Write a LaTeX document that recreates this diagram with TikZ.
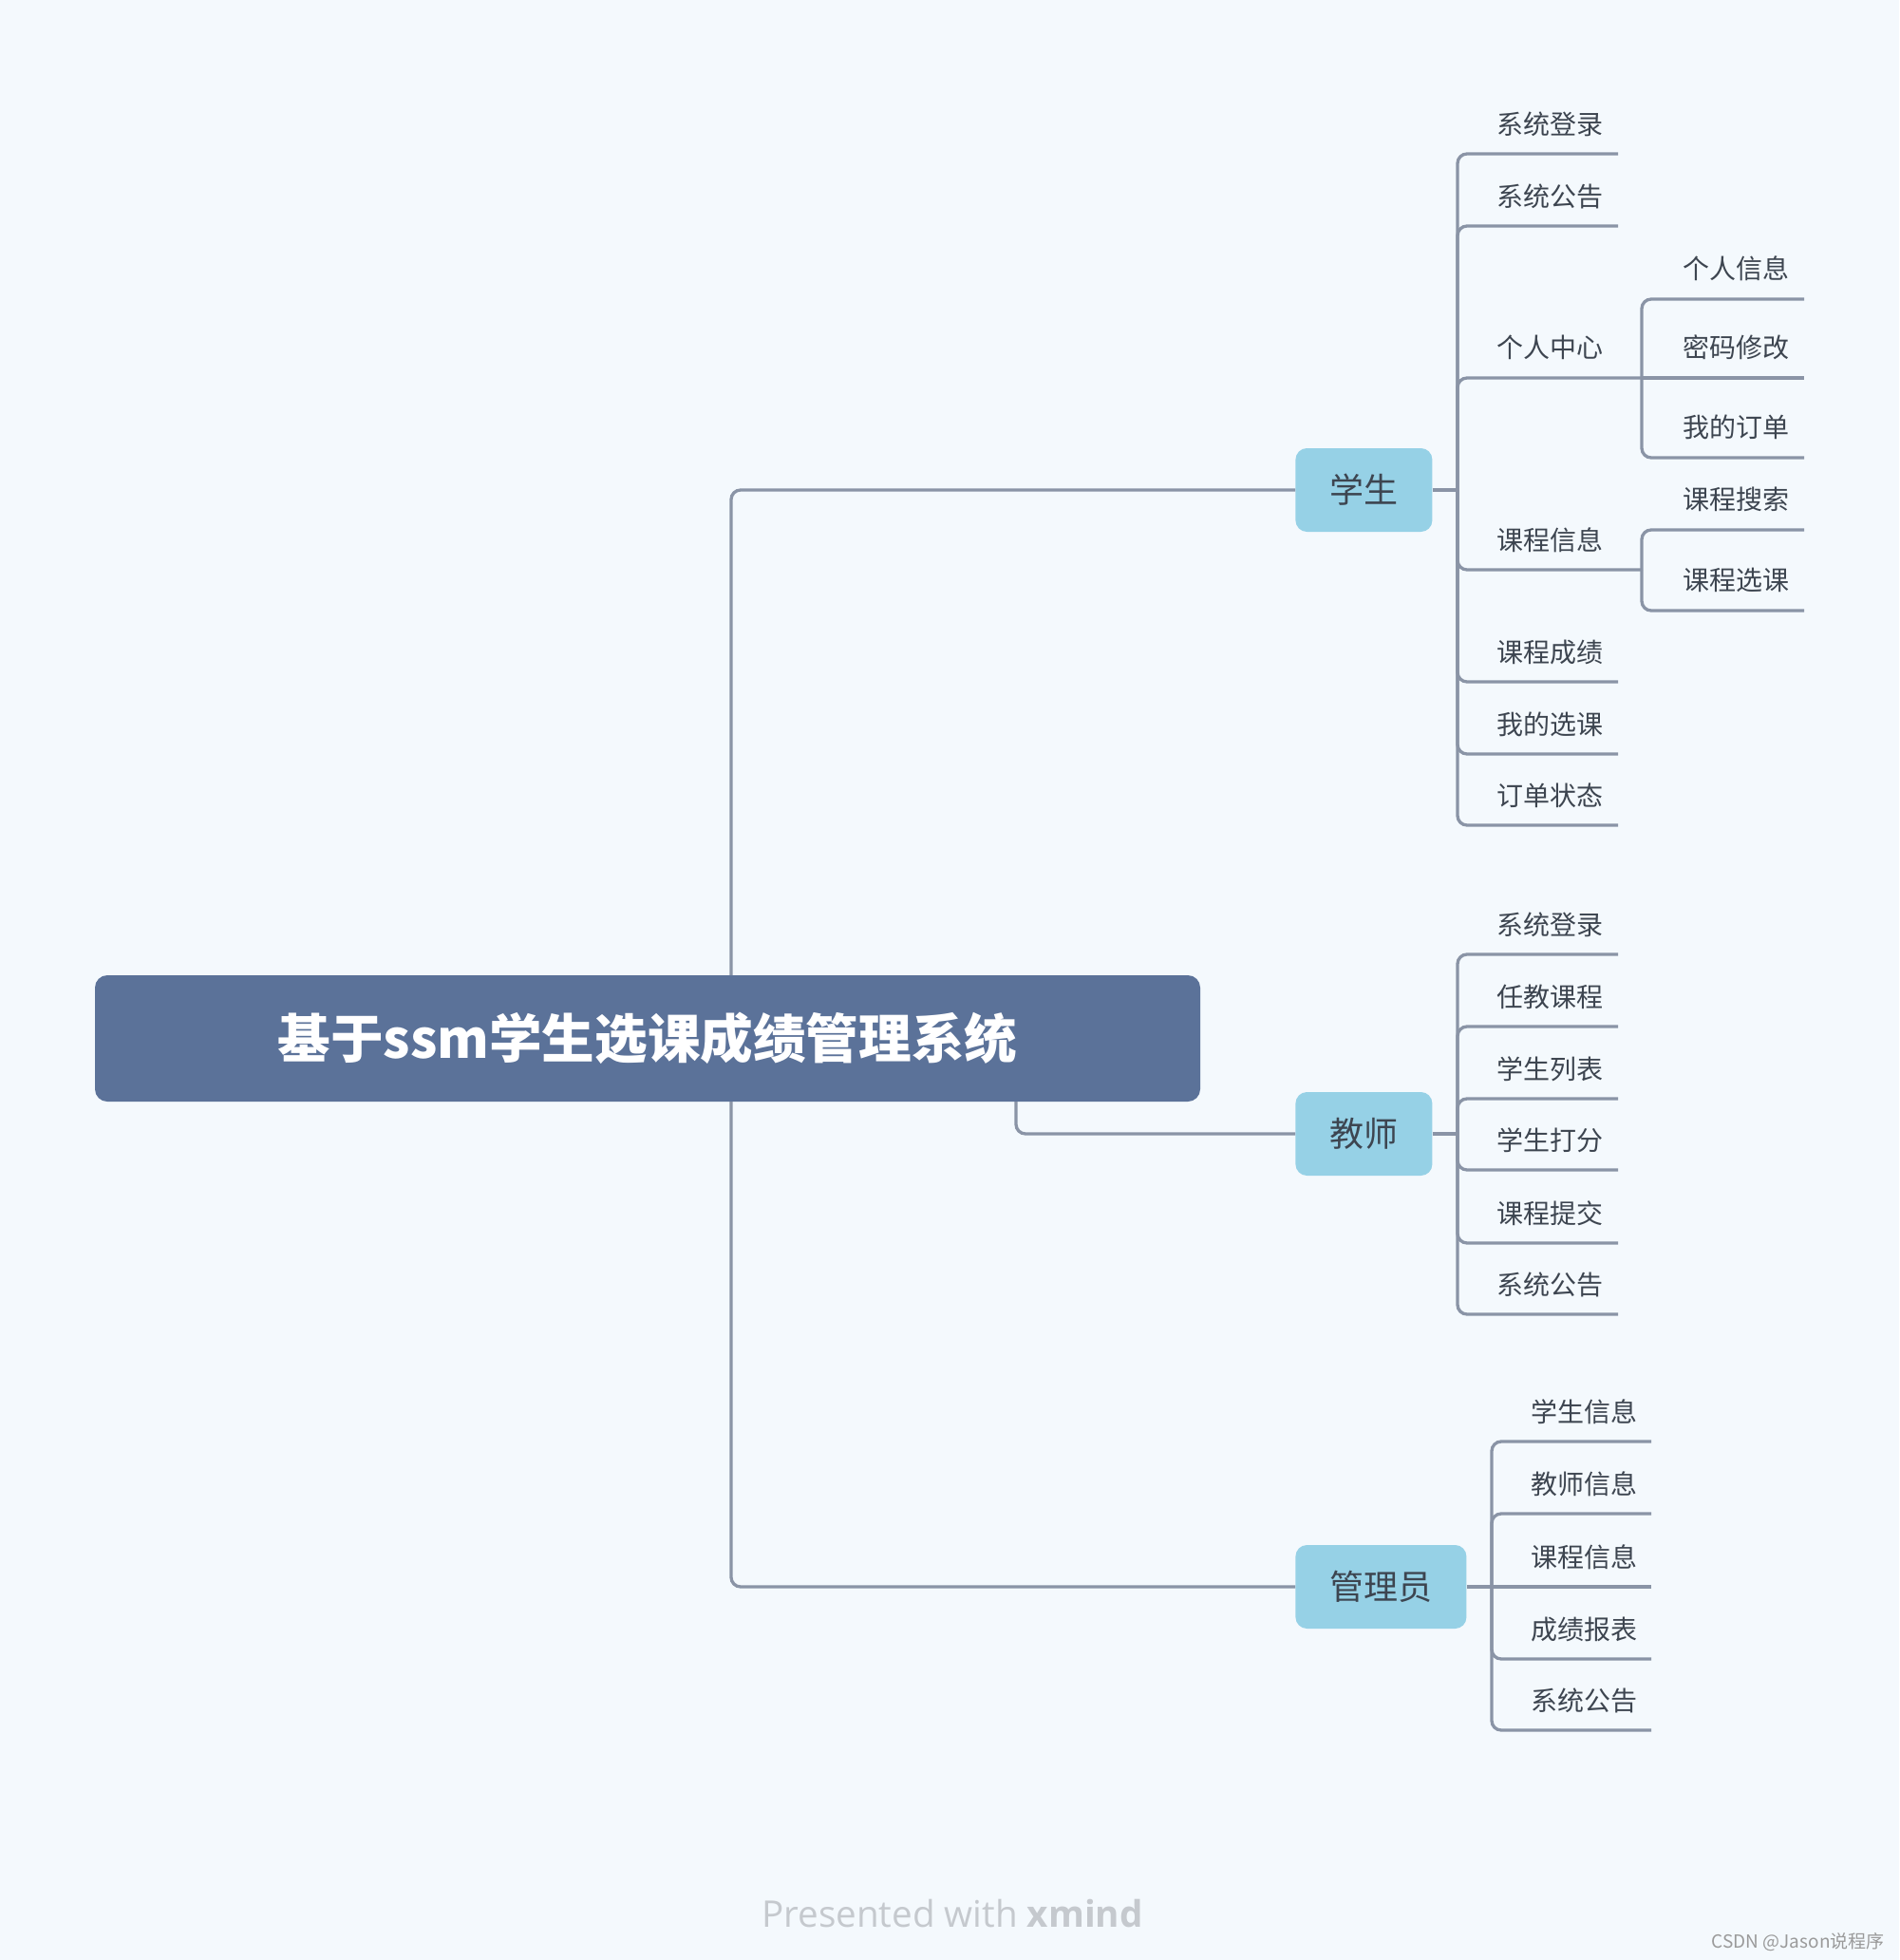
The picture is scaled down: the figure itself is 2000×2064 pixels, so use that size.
\documentclass[tikz,border=0pt]{standalone}
\usepackage{fontspec}
\setmainfont{Noto Sans CJK SC}
\newfontfamily\footfont{Open Sans}
\definecolor{bg}{HTML}{F4F9FD}
\definecolor{linec}{HTML}{8A94A6}
\definecolor{rootfill}{HTML}{5B7299}
\definecolor{topicfill}{HTML}{96D1E6}
\definecolor{leaftext}{HTML}{3D4550}
\definecolor{footc}{HTML}{C5C9CE}
\definecolor{markc}{HTML}{9A9A9A}
\tikzset{
  conn/.style={draw=linec, line width=1.65pt, rounded corners=5pt},
  straight/.style={draw=linec, line width=1.65pt},
  leaf/.style={anchor=west, inner sep=0pt, text=leaftext, font=\fontsize{14}{16}\selectfont},
  topic/.style={anchor=west, fill=topicfill, rounded corners=6pt, minimum height=44pt,
    inner xsep=18pt, inner ysep=0pt, text=leaftext, font=\fontsize{18}{20}\selectfont},
  rootbox/.style={fill=rootfill, rounded corners=6.5pt, minimum width=582pt, minimum height=66.5pt,
    inner sep=0pt, text=white, font=\fontsize{27.8}{32}\selectfont\bfseries},
}
\begin{document}
\begin{tikzpicture}[x=0.5pt,y=-0.5pt]
\fill[bg] (0,0) rectangle (2000,2064);
\useasboundingbox (0,0) rectangle (2000,2064);

% root and topics
\node[rootbox] (root) at (682,1093.5) {基于ssm学生选课成绩管理系统};
\node[topic] (sb) at (1364,516) {学生};
\node[topic] (tb) at (1364,1194) {教师};
\node[topic] (ab) at (1364,1671) {管理员};

% root connectors
\coordinate (rtop) at (770,1027);
\coordinate (rbot) at (770,1160);
\coordinate (rtb) at (1070,1160);
\draw[conn] (rtop) |- (sb.west);
\draw[conn] (rbot) |- (ab.west);
\draw[conn] (rtb) |- (tb.west);

% student branch
\coordinate (sj) at (1535,516);
\draw[straight] (sb.east) -- (sj);
\foreach \n/\y/\t in {1/162/系统登录,2/238/系统公告,5/718/课程成绩,6/794/我的选课,7/869/订单状态}{
  \node[leaf] (s\n) at (1576,\y-31) {\t};
  \coordinate (s\n e) at (1704,\y);
  \draw[conn] (sj) |- (s\n e);
}
\node[leaf] (s3) at (1576,398-32) {个人中心};
\coordinate (s3e) at (1729,398);
\draw[conn] (sj) |- (s3e);
\node[leaf] (s4) at (1576,600-31) {课程信息};
\coordinate (s4e) at (1729,600);
\draw[conn] (sj) |- (s4e);

% personal centre sub-branch
\foreach \n/\y/\t in {1/315/个人信息,3/482/我的订单}{
  \node[leaf] (p\n) at (1772,\y-32) {\t};
  \coordinate (p\n e) at (1900,\y);
  \draw[conn] (s3e) |- (p\n e);
}
\node[leaf] (p2) at (1772,398-32) {密码修改};
\coordinate (p2e) at (1900,398);
\draw[straight] (s3e) -- (p2e);

% course info sub-branch
\foreach \n/\y/\t in {1/558/课程搜索,2/643/课程选课}{
  \node[leaf] (c\n) at (1772,\y-32) {\t};
  \coordinate (c\n e) at (1900,\y);
  \draw[conn] (s4e) |- (c\n e);
}

% teacher branch
\coordinate (tj) at (1535,1194);
\draw[straight] (tb.east) -- (tj);
\foreach \n/\y/\t in {1/1005/系统登录,2/1081/任教课程,3/1157/学生列表,4/1232/学生打分,5/1309/课程提交,6/1384/系统公告}{
  \node[leaf] (t\n) at (1576,\y-31) {\t};
  \coordinate (t\n e) at (1704,\y);
  \draw[conn] (tj) |- (t\n e);
}

% admin branch
\coordinate (aj) at (1571,1671);
\draw[straight] (ab.east) -- (aj);
\foreach \n/\y/\t in {1/1518/学生信息,2/1594/教师信息,4/1747/成绩报表,5/1822/系统公告}{
  \node[leaf] (a\n) at (1612,\y-31) {\t};
  \coordinate (a\n e) at (1739,\y);
  \draw[conn] (aj) |- (a\n e);
}
\node[leaf] (a3) at (1612,1671-31) {课程信息};
\coordinate (a3e) at (1739,1671);
\draw[straight] (aj) -- (a3e);

% footer
\node[text=footc, font=\footfont\fontsize{19.3}{23}\selectfont] (foot) at (1003,2015) {Presented with \textbf{xmind}};
\node[anchor=east, inner sep=0pt, text=markc, font=\fontsize{9.5}{11}\selectfont] (mark) at (1985,2045) {CSDN @Jason说程序};
\end{tikzpicture}
\end{document}
